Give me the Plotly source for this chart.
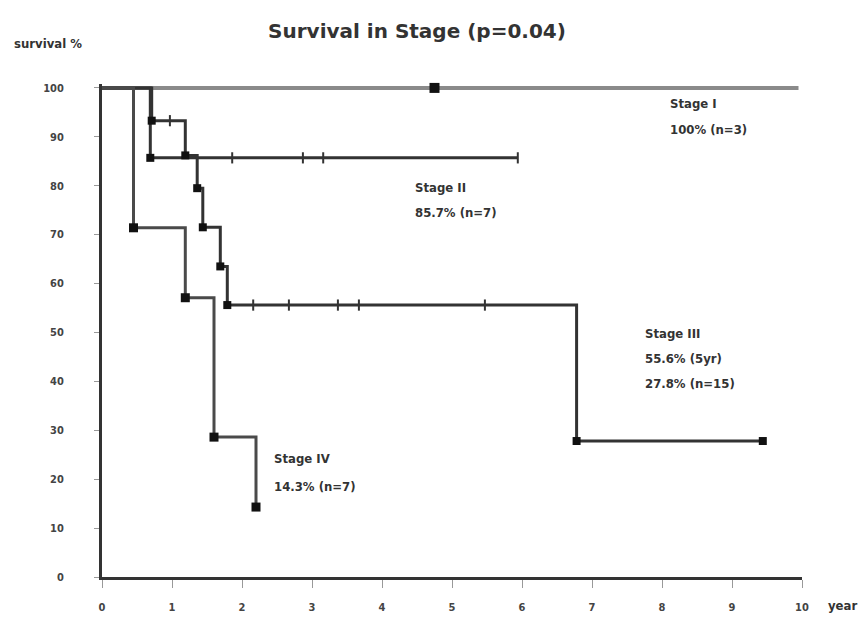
import plotly.graph_objects as go

# ---- data ----
stage1_t = [0, 9.95]
stage1_s = [100, 100]
stage1_mark_t = [4.75]
stage1_mark_s = [100]

stage2_t = [0, 0.69, 5.94]
stage2_s = [100, 85.7, 85.7]
stage2_cens_t = [1.86, 2.87, 3.16, 5.94]
stage2_cens_s = [85.7, 85.7, 85.7, 85.7]
stage2_mark_t = [0.69]
stage2_mark_s = [85.7]

stage3_t = [0, 0.71, 1.19, 1.36, 1.44, 1.69, 1.79, 6.78, 9.44]
stage3_s = [100, 93.3, 86.2, 79.5, 71.5, 63.5, 55.6, 27.8, 27.8]
stage3_cens_t = [0.97, 2.16, 2.67, 3.37, 3.67, 5.47]
stage3_cens_s = [93.3, 55.6, 55.6, 55.6, 55.6, 55.6]

stage4_t = [0, 0.45, 1.19, 1.6, 2.2]
stage4_s = [100, 71.4, 57.1, 28.6, 14.3]

x_ticks = list(range(0, 11))
y_ticks = list(range(0, 101, 10))

FONT = "DejaVu Sans Condensed"
DARK = "#333333"

# page has an 8px body margin, so the figure is made 8px smaller and
# reference pixel positions are shifted by OFF
OFF = 8
W, H = 867 - OFF, 617 - OFF
L, R, T, B = 102 - OFF, 65, 84 - OFF, 40
PW, PH = W - L - R, H - T - B

def paper(px, py):
    return (px - OFF - L) / PW, (H - B - (py - OFF)) / PH

fig = go.Figure()

def step(t, s, color, width):
    fig.add_trace(go.Scatter(x=t, y=s, mode="lines", line=dict(shape="hv", color=color, width=width),
                             hoverinfo="skip", showlegend=False))

def marks(t, s, size=8):
    fig.add_trace(go.Scatter(x=t, y=s, mode="markers", cliponaxis=False,
                             marker=dict(symbol="square", size=size, color="#111"),
                             hoverinfo="skip", showlegend=False))

def cens(t, s):
    fig.add_trace(go.Scatter(x=t, y=s, mode="markers", cliponaxis=False,
                             marker=dict(symbol="line-ns", size=8, line=dict(width=2, color="#333")),
                             hoverinfo="skip", showlegend=False))

step(stage1_t, stage1_s, "#8a8a8a", 4)
step(stage2_t, stage2_s, DARK, 3)
step(stage3_t, stage3_s, DARK, 3)
step(stage4_t, stage4_s, "#4a4a4a", 3)

marks(stage1_mark_t, stage1_mark_s, 10)
marks(stage2_mark_t, stage2_mark_s)
marks(stage3_t[1:], stage3_s[1:])
marks(stage4_t[1:], stage4_s[1:], 9)
cens(stage2_cens_t, stage2_cens_s)
cens(stage3_cens_t, stage3_cens_s)

ann_font = dict(family=FONT, size=13, color="#333")
notes = [
    (668, 103, "<b>Stage I</b>"), (668, 129, "<b>100% (n=3)</b>"),
    (413, 187, "<b>Stage II</b>"), (413, 213, "<b>85.7% (n=7)</b>"),
    (643, 333, "<b>Stage III</b>"), (643, 358, "<b>55.6% (5yr)</b>"), (643, 383, "<b>27.8% (n=15)</b>"),
    (272, 458, "<b>Stage IV</b>"), (272, 486, "<b>14.3% (n=7)</b>"),
    (12, 43, "<b>survival %</b>"), (826, 605, "<b>year</b>"),
]
for px, py, txt in notes:
    ax, ay = paper(px, py)
    fig.add_annotation(x=ax, y=ay, xref="paper", yref="paper", text=txt,
                       showarrow=False, xanchor="left", yanchor="middle", font=ann_font)

tick_font = dict(family=FONT, size=11, color="#444", weight="bold")

fig.update_layout(
    width=W, height=H,
    margin=dict(l=L, r=R, t=T, b=B),
    paper_bgcolor="white", plot_bgcolor="white",
    title=dict(text="<b>Survival in Stage (p=0.04)</b>", x=(417 - OFF) / W, xanchor="center",
               y=1 - (31 - OFF) / H, yanchor="middle",
               font=dict(family="DejaVu Sans", size=20, color="#333")),
    xaxis=dict(range=[0, 10], tickvals=x_ticks, showgrid=False, zeroline=False, automargin=False,
               showline=True, linewidth=3, linecolor="#333", ticks="outside", ticklen=8,
               tickwidth=1, tickcolor="#999", ticklabelstandoff=10, tickfont=tick_font),
    yaxis=dict(range=[0, 100.8], tickvals=y_ticks, showgrid=False, zeroline=False, automargin=False,
               showline=True, linewidth=3, linecolor="#333", ticks="outside", ticklen=5,
               tickwidth=1, tickcolor="#999", ticklabelstandoff=28, tickfont=tick_font),
)

fig.write_html("out.html")
